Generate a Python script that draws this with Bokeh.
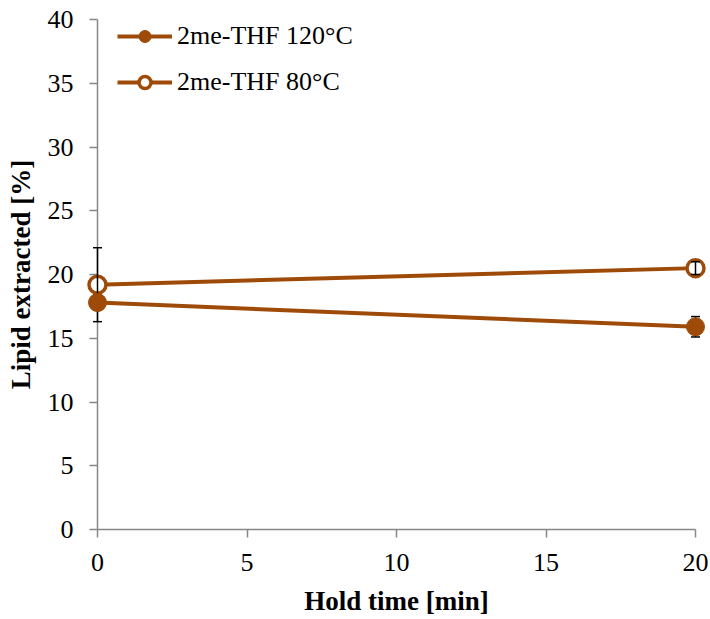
from bokeh.plotting import figure
from bokeh.models import Range1d, FixedTicker, Legend, LegendItem
from bokeh.embed import file_html
from bokeh.resources import INLINE

# Hold time in minutes and lipid extracted (%) with standard deviations
hold_time = [0, 20]
lipid_120 = [17.8, 15.9]
err_120 = [0.6, 0.8]
lipid_80 = [19.2, 20.5]
err_80 = [2.9, 0.5]

series_labels = ["2me-THF 120°C", "2me-THF 80°C"]
x_ticks = [0, 5, 10, 15, 20]
y_ticks = [0, 5, 10, 15, 20, 25, 30, 35, 40]

BROWN = "#9E4A08"
AXIS_GREY = "#878787"
FONT = "Liberation Serif"

p = figure(
    width=710, height=619,
    x_range=Range1d(0, 20), y_range=Range1d(0, 40),
    output_backend="svg", toolbar_location=None,
    min_border_left=97, min_border_right=15,
    min_border_top=19, min_border_bottom=90,
)
p.outline_line_color = None
p.xgrid.visible = False
p.ygrid.visible = False
p.background_fill_color = "white"
p.border_fill_color = "white"

for ax in (p.xaxis[0], p.yaxis[0]):
    ax.axis_line_color = AXIS_GREY
    ax.axis_line_width = 1.5
    ax.major_tick_line_color = AXIS_GREY
    ax.major_tick_line_width = 1.5
    ax.major_tick_in = 0
    ax.major_tick_out = 8
    ax.minor_tick_line_color = None
    ax.major_label_text_font = FONT
    ax.major_label_text_font_size = "26px"
    ax.major_label_text_color = "black"
    ax.axis_label_text_font = FONT
    ax.axis_label_text_font_size = "27px"
    ax.axis_label_text_font_style = "bold"
    ax.axis_label_text_color = "black"

p.xaxis.ticker = FixedTicker(ticks=x_ticks)
p.yaxis.ticker = FixedTicker(ticks=y_ticks)
p.xaxis.axis_label = "Hold time [min]"
p.yaxis.axis_label = "Lipid extracted [%]"
p.xaxis.major_label_standoff = 16
p.yaxis.major_label_standoff = 16
p.xaxis.axis_label_standoff = 12
p.yaxis.axis_label_standoff = 9


def error_bars(x, y, err):
    lo = [v - e for v, e in zip(y, err)]
    hi = [v + e for v, e in zip(y, err)]
    p.segment(x0=x, y0=lo, x1=x, y1=hi, line_color="black",
              line_width=1.5, level="overlay")
    p.scatter(x=x + x, y=lo + hi, marker="dash", size=9,
              line_color="black", line_width=1.5, level="overlay")


# connecting lines
line_120 = p.line(hold_time, lipid_120, line_color=BROWN, line_width=4)
line_80 = p.line(hold_time, lipid_80, line_color=BROWN, line_width=4)

# 80 °C: hollow markers with their error bars on top
mark_80 = p.scatter(hold_time, lipid_80, marker="circle", size=17,
                    fill_color="white", line_color=BROWN, line_width=3.5,
                    level="overlay")
error_bars(hold_time, lipid_80, err_80)

# 120 °C: error bars beneath solid markers
error_bars(hold_time, lipid_120, err_120)
mark_120 = p.scatter(hold_time, lipid_120, marker="circle", size=18,
                     fill_color=BROWN, line_color=BROWN, line_width=1,
                     level="overlay")

legend = Legend(
    items=[
        LegendItem(label=series_labels[0], renderers=[line_120, mark_120]),
        LegendItem(label=series_labels[1], renderers=[line_80, mark_80]),
    ],
    location=(20, 432),
    padding=0, margin=0, spacing=16,
    glyph_width=55, glyph_height=30, label_height=30,
    label_standoff=5,
    label_text_font=FONT, label_text_font_size="26px",
    label_text_color="black",
    border_line_color=None, background_fill_alpha=0,
)
p.add_layout(legend)

open("out.html", "w").write(file_html(p, INLINE))
